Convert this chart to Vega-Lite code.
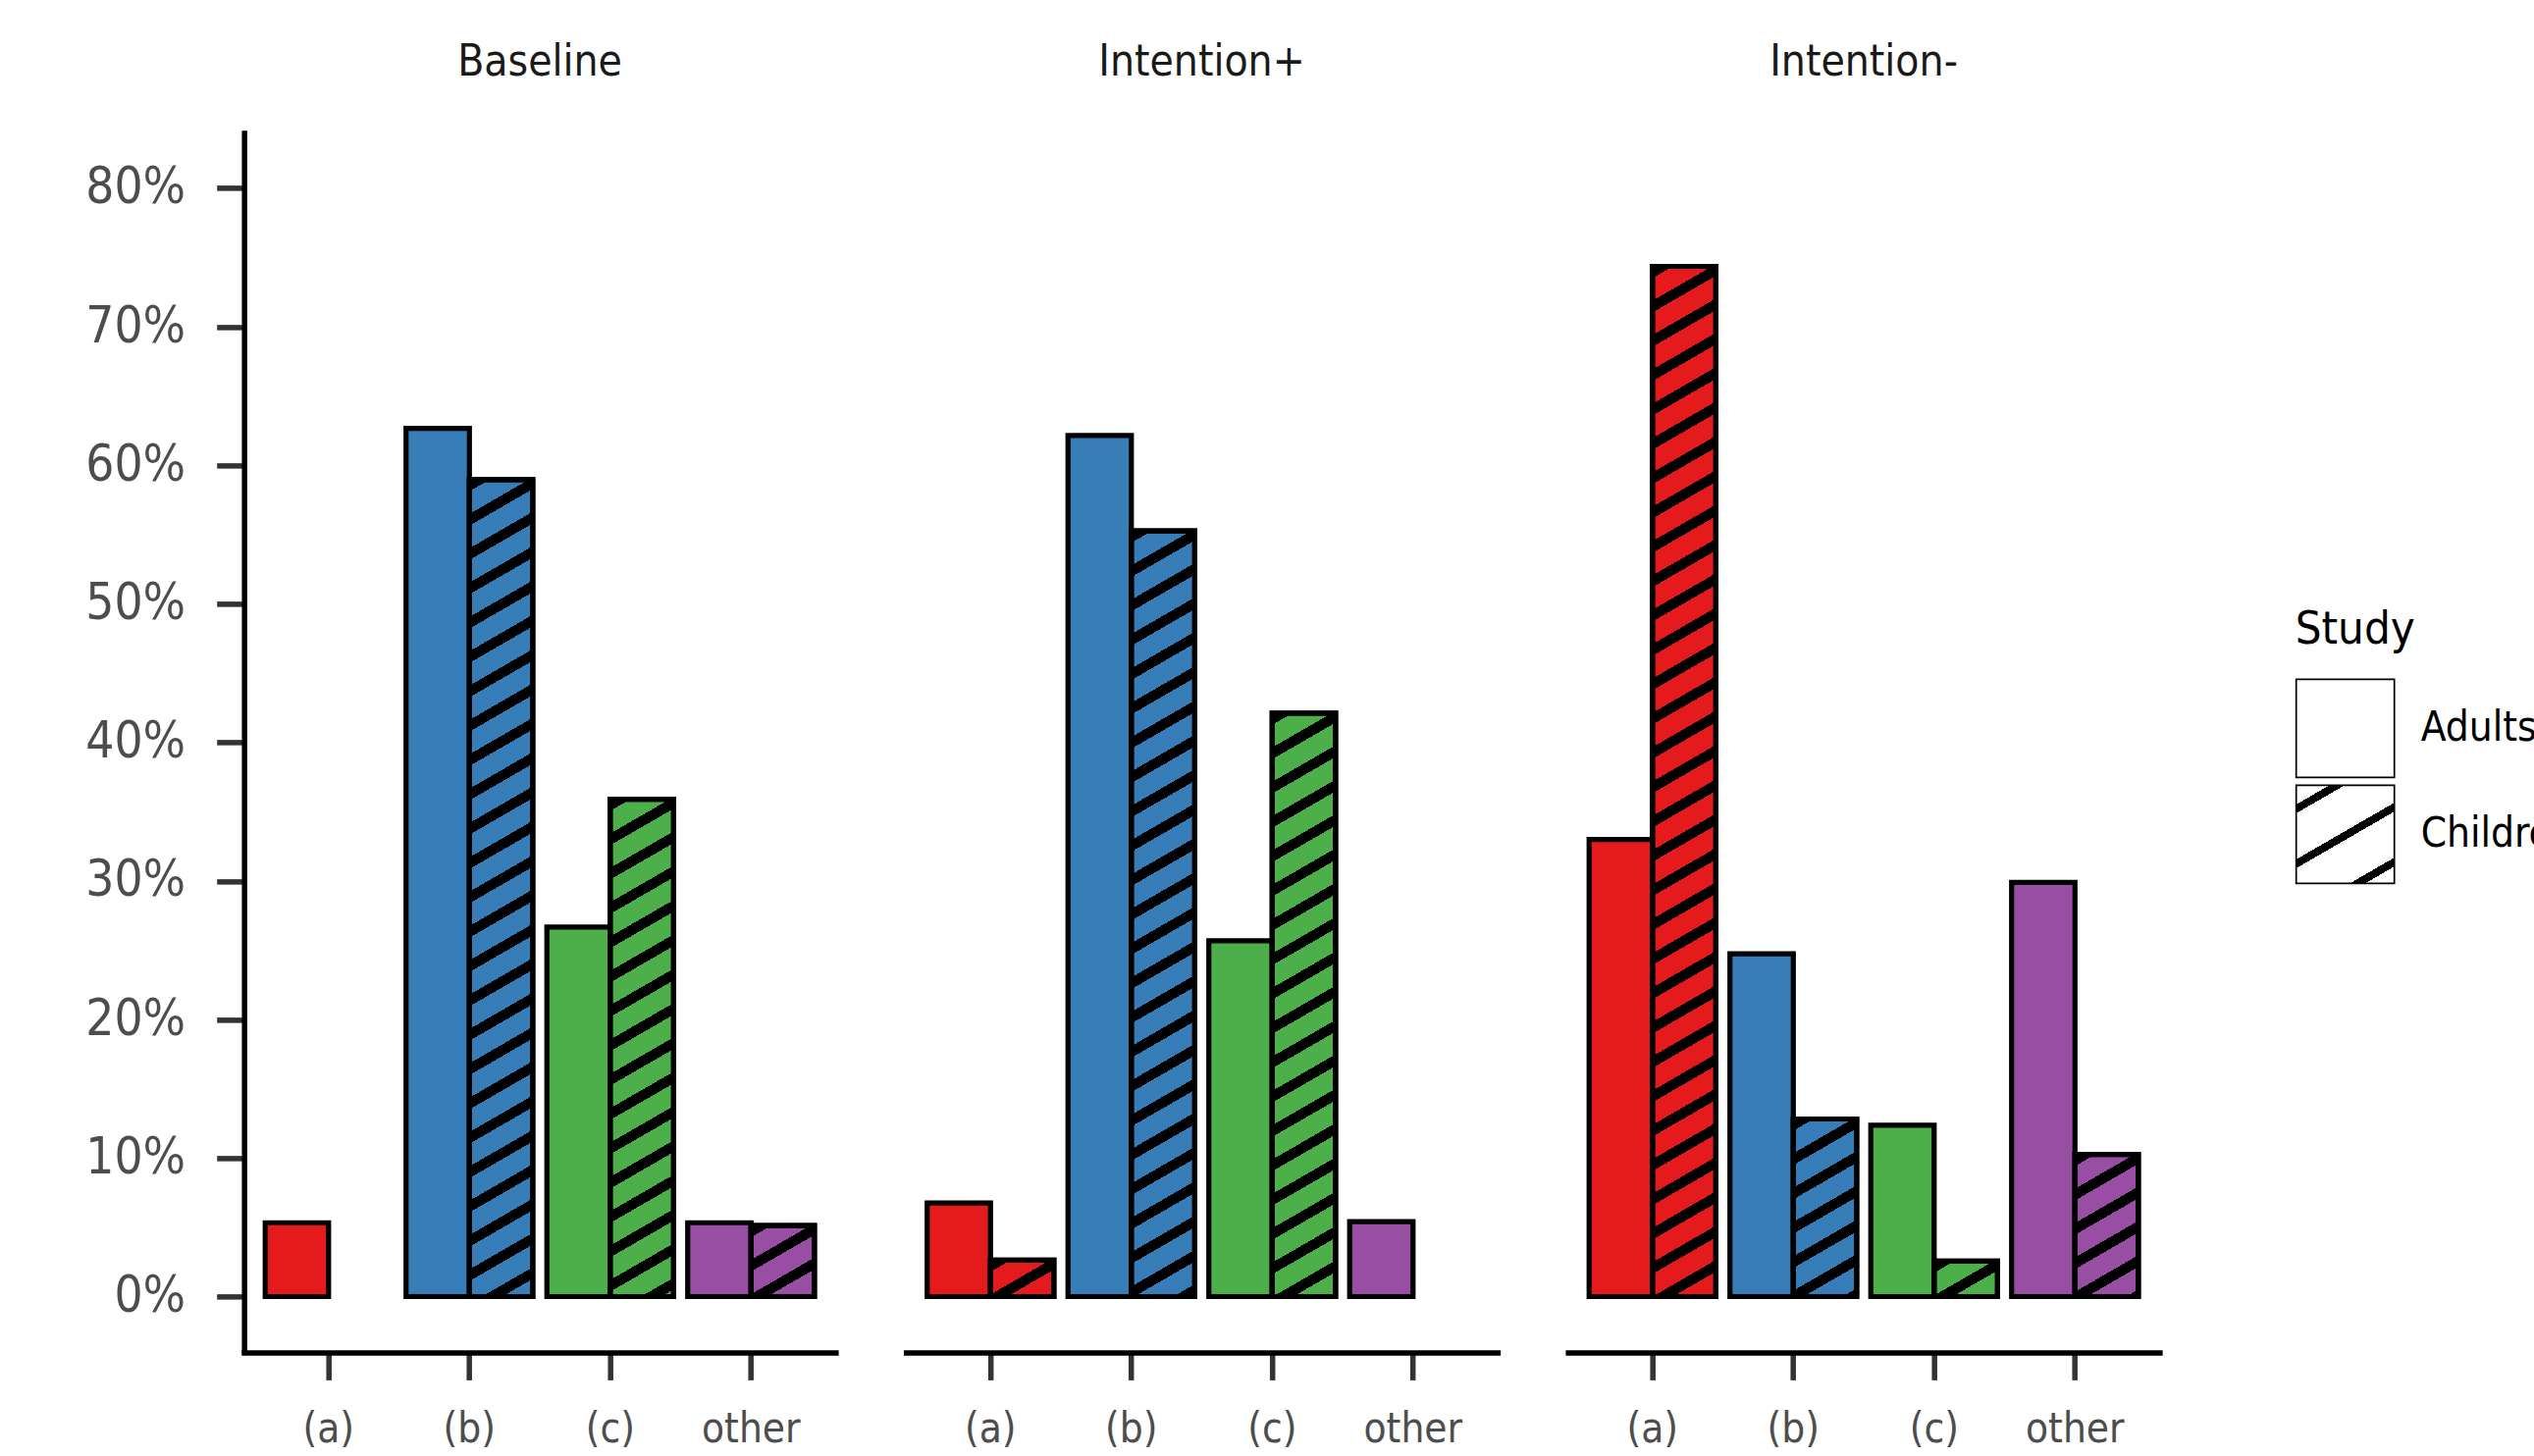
{
  "$schema": "https://vega.github.io/schema/vega-lite/v6.json",
  "background": "white",
  "padding": {"left": 86.7, "top": 42.4, "right": 0, "bottom": 14},
  "params": [
    {"name": "hatch", "value": [
      {"offset":0,"color":"#000000"},{"offset":0.0085,"color":"#000000"},{"offset":0.0085,"color":"rgba(0,0,0,0)"},{"offset":0.025,"color":"rgba(0,0,0,0)"},
      {"offset":0.025,"color":"#000000"},{"offset":0.0335,"color":"#000000"},{"offset":0.0335,"color":"rgba(0,0,0,0)"},{"offset":0.05,"color":"rgba(0,0,0,0)"},
      {"offset":0.05,"color":"#000000"},{"offset":0.0585,"color":"#000000"},{"offset":0.0585,"color":"rgba(0,0,0,0)"},{"offset":0.075,"color":"rgba(0,0,0,0)"},
      {"offset":0.075,"color":"#000000"},{"offset":0.0835,"color":"#000000"},{"offset":0.0835,"color":"rgba(0,0,0,0)"},{"offset":0.1,"color":"rgba(0,0,0,0)"},
      {"offset":0.1,"color":"#000000"},{"offset":0.1085,"color":"#000000"},{"offset":0.1085,"color":"rgba(0,0,0,0)"},{"offset":0.125,"color":"rgba(0,0,0,0)"},
      {"offset":0.125,"color":"#000000"},{"offset":0.1335,"color":"#000000"},{"offset":0.1335,"color":"rgba(0,0,0,0)"},{"offset":0.15,"color":"rgba(0,0,0,0)"},
      {"offset":0.15,"color":"#000000"},{"offset":0.1585,"color":"#000000"},{"offset":0.1585,"color":"rgba(0,0,0,0)"},{"offset":0.175,"color":"rgba(0,0,0,0)"},
      {"offset":0.175,"color":"#000000"},{"offset":0.1835,"color":"#000000"},{"offset":0.1835,"color":"rgba(0,0,0,0)"},{"offset":0.2,"color":"rgba(0,0,0,0)"},
      {"offset":0.2,"color":"#000000"},{"offset":0.2085,"color":"#000000"},{"offset":0.2085,"color":"rgba(0,0,0,0)"},{"offset":0.225,"color":"rgba(0,0,0,0)"},
      {"offset":0.225,"color":"#000000"},{"offset":0.2335,"color":"#000000"},{"offset":0.2335,"color":"rgba(0,0,0,0)"},{"offset":0.25,"color":"rgba(0,0,0,0)"},
      {"offset":0.25,"color":"#000000"},{"offset":0.2585,"color":"#000000"},{"offset":0.2585,"color":"rgba(0,0,0,0)"},{"offset":0.275,"color":"rgba(0,0,0,0)"},
      {"offset":0.275,"color":"#000000"},{"offset":0.2835,"color":"#000000"},{"offset":0.2835,"color":"rgba(0,0,0,0)"},{"offset":0.3,"color":"rgba(0,0,0,0)"},
      {"offset":0.3,"color":"#000000"},{"offset":0.3085,"color":"#000000"},{"offset":0.3085,"color":"rgba(0,0,0,0)"},{"offset":0.325,"color":"rgba(0,0,0,0)"},
      {"offset":0.325,"color":"#000000"},{"offset":0.3335,"color":"#000000"},{"offset":0.3335,"color":"rgba(0,0,0,0)"},{"offset":0.35,"color":"rgba(0,0,0,0)"},
      {"offset":0.35,"color":"#000000"},{"offset":0.3585,"color":"#000000"},{"offset":0.3585,"color":"rgba(0,0,0,0)"},{"offset":0.375,"color":"rgba(0,0,0,0)"},
      {"offset":0.375,"color":"#000000"},{"offset":0.3835,"color":"#000000"},{"offset":0.3835,"color":"rgba(0,0,0,0)"},{"offset":0.4,"color":"rgba(0,0,0,0)"},
      {"offset":0.4,"color":"#000000"},{"offset":0.4085,"color":"#000000"},{"offset":0.4085,"color":"rgba(0,0,0,0)"},{"offset":0.425,"color":"rgba(0,0,0,0)"},
      {"offset":0.425,"color":"#000000"},{"offset":0.4335,"color":"#000000"},{"offset":0.4335,"color":"rgba(0,0,0,0)"},{"offset":0.45,"color":"rgba(0,0,0,0)"},
      {"offset":0.45,"color":"#000000"},{"offset":0.4585,"color":"#000000"},{"offset":0.4585,"color":"rgba(0,0,0,0)"},{"offset":0.475,"color":"rgba(0,0,0,0)"},
      {"offset":0.475,"color":"#000000"},{"offset":0.4835,"color":"#000000"},{"offset":0.4835,"color":"rgba(0,0,0,0)"},{"offset":0.5,"color":"rgba(0,0,0,0)"},
      {"offset":0.5,"color":"#000000"},{"offset":0.5085,"color":"#000000"},{"offset":0.5085,"color":"rgba(0,0,0,0)"},{"offset":0.525,"color":"rgba(0,0,0,0)"},
      {"offset":0.525,"color":"#000000"},{"offset":0.5335,"color":"#000000"},{"offset":0.5335,"color":"rgba(0,0,0,0)"},{"offset":0.55,"color":"rgba(0,0,0,0)"},
      {"offset":0.55,"color":"#000000"},{"offset":0.5585,"color":"#000000"},{"offset":0.5585,"color":"rgba(0,0,0,0)"},{"offset":0.575,"color":"rgba(0,0,0,0)"},
      {"offset":0.575,"color":"#000000"},{"offset":0.5835,"color":"#000000"},{"offset":0.5835,"color":"rgba(0,0,0,0)"},{"offset":0.6,"color":"rgba(0,0,0,0)"},
      {"offset":0.6,"color":"#000000"},{"offset":0.6085,"color":"#000000"},{"offset":0.6085,"color":"rgba(0,0,0,0)"},{"offset":0.625,"color":"rgba(0,0,0,0)"},
      {"offset":0.625,"color":"#000000"},{"offset":0.6335,"color":"#000000"},{"offset":0.6335,"color":"rgba(0,0,0,0)"},{"offset":0.65,"color":"rgba(0,0,0,0)"},
      {"offset":0.65,"color":"#000000"},{"offset":0.6585,"color":"#000000"},{"offset":0.6585,"color":"rgba(0,0,0,0)"},{"offset":0.675,"color":"rgba(0,0,0,0)"},
      {"offset":0.675,"color":"#000000"},{"offset":0.6835,"color":"#000000"},{"offset":0.6835,"color":"rgba(0,0,0,0)"},{"offset":0.7,"color":"rgba(0,0,0,0)"},
      {"offset":0.7,"color":"#000000"},{"offset":0.7085,"color":"#000000"},{"offset":0.7085,"color":"rgba(0,0,0,0)"},{"offset":0.725,"color":"rgba(0,0,0,0)"},
      {"offset":0.725,"color":"#000000"},{"offset":0.7335,"color":"#000000"},{"offset":0.7335,"color":"rgba(0,0,0,0)"},{"offset":0.75,"color":"rgba(0,0,0,0)"},
      {"offset":0.75,"color":"#000000"},{"offset":0.7585,"color":"#000000"},{"offset":0.7585,"color":"rgba(0,0,0,0)"},{"offset":0.775,"color":"rgba(0,0,0,0)"},
      {"offset":0.775,"color":"#000000"},{"offset":0.7835,"color":"#000000"},{"offset":0.7835,"color":"rgba(0,0,0,0)"},{"offset":0.8,"color":"rgba(0,0,0,0)"},
      {"offset":0.8,"color":"#000000"},{"offset":0.8085,"color":"#000000"},{"offset":0.8085,"color":"rgba(0,0,0,0)"},{"offset":0.825,"color":"rgba(0,0,0,0)"},
      {"offset":0.825,"color":"#000000"},{"offset":0.8335,"color":"#000000"},{"offset":0.8335,"color":"rgba(0,0,0,0)"},{"offset":0.85,"color":"rgba(0,0,0,0)"},
      {"offset":0.85,"color":"#000000"},{"offset":0.8585,"color":"#000000"},{"offset":0.8585,"color":"rgba(0,0,0,0)"},{"offset":0.875,"color":"rgba(0,0,0,0)"},
      {"offset":0.875,"color":"#000000"},{"offset":0.8835,"color":"#000000"},{"offset":0.8835,"color":"rgba(0,0,0,0)"},{"offset":0.9,"color":"rgba(0,0,0,0)"},
      {"offset":0.9,"color":"#000000"},{"offset":0.9085,"color":"#000000"},{"offset":0.9085,"color":"rgba(0,0,0,0)"},{"offset":0.925,"color":"rgba(0,0,0,0)"},
      {"offset":0.925,"color":"#000000"},{"offset":0.9335,"color":"#000000"},{"offset":0.9335,"color":"rgba(0,0,0,0)"},{"offset":0.95,"color":"rgba(0,0,0,0)"},
      {"offset":0.95,"color":"#000000"},{"offset":0.9585,"color":"#000000"},{"offset":0.9585,"color":"rgba(0,0,0,0)"},{"offset":0.975,"color":"rgba(0,0,0,0)"},
      {"offset":0.975,"color":"#000000"},{"offset":0.9835,"color":"#000000"},{"offset":0.9835,"color":"rgba(0,0,0,0)"},{"offset":1,"color":"rgba(0,0,0,0)"}
    ]}
  ],
  "data": {"values": [
    {"cond": "Baseline", "resp": "(a)", "study": "Adults", "pct": 0.0533},
    {"cond": "Baseline", "resp": "(b)", "study": "Adults", "pct": 0.6267},
    {"cond": "Baseline", "resp": "(c)", "study": "Adults", "pct": 0.2667},
    {"cond": "Baseline", "resp": "other", "study": "Adults", "pct": 0.0533},
    {"cond": "Baseline", "resp": "(b)", "study": "Children", "pct": 0.5897},
    {"cond": "Baseline", "resp": "(c)", "study": "Children", "pct": 0.359},
    {"cond": "Baseline", "resp": "other", "study": "Children", "pct": 0.0513},
    {"cond": "Intention+", "resp": "(a)", "study": "Adults", "pct": 0.0676},
    {"cond": "Intention+", "resp": "(b)", "study": "Adults", "pct": 0.6216},
    {"cond": "Intention+", "resp": "(c)", "study": "Adults", "pct": 0.2568},
    {"cond": "Intention+", "resp": "other", "study": "Adults", "pct": 0.0541},
    {"cond": "Intention+", "resp": "(a)", "study": "Children", "pct": 0.0263},
    {"cond": "Intention+", "resp": "(b)", "study": "Children", "pct": 0.5526},
    {"cond": "Intention+", "resp": "(c)", "study": "Children", "pct": 0.4211},
    {"cond": "Intention-", "resp": "(a)", "study": "Adults", "pct": 0.3299},
    {"cond": "Intention-", "resp": "(b)", "study": "Adults", "pct": 0.2474},
    {"cond": "Intention-", "resp": "(c)", "study": "Adults", "pct": 0.1237},
    {"cond": "Intention-", "resp": "other", "study": "Adults", "pct": 0.299},
    {"cond": "Intention-", "resp": "(a)", "study": "Children", "pct": 0.7436},
    {"cond": "Intention-", "resp": "(b)", "study": "Children", "pct": 0.1282},
    {"cond": "Intention-", "resp": "(c)", "study": "Children", "pct": 0.0256},
    {"cond": "Intention-", "resp": "other", "study": "Children", "pct": 0.1026}
  ]},
  "facet": {
    "column": {
      "field": "cond", "type": "nominal",
      "sort": ["Baseline", "Intention+", "Intention-"],
      "header": {"title": null, "labelFontSize": 44, "labelColor": "#1A1A1A", "labelPadding": 49,
                 "labelFont": "Liberation Sans Narrow, Arial Narrow, DejaVu Sans Condensed, sans-serif"}
    }
  },
  "spacing": 71.5,
  "spec": {
    "width": 602.7,
    "height": 1242.6,
    "layer": [
      {
        "mark": {"type": "bar", "stroke": "black", "strokeWidth": 5.2},
        "encoding": {
          "x": {"field": "resp", "type": "nominal", "sort": ["(a)", "(b)", "(c)", "other"],
                "scale": {"paddingInner": 0.1, "paddingOuter": 0.15},
                "axis": {"title": null, "labelAngle": 0, "labelFontSize": 42, "labelPadding": 30}},
          "xOffset": {"field": "study", "type": "nominal", "sort": ["Adults", "Children"],
                      "scale": {"paddingInner": 0, "paddingOuter": 0}},
          "y": {"field": "pct", "type": "quantitative",
                "scale": {"domain": [-0.04, 0.84], "nice": false},
                "axis": {"title": null, "values": [0, 0.1, 0.2, 0.3, 0.4, 0.5, 0.6, 0.7, 0.8], "format": ".0%",
                         "labelFontSize": 51, "labelPadding": 32}},
          "y2": {"datum": 0},
          "fill": {"field": "resp", "type": "nominal",
                   "scale": {"domain": ["(a)", "(b)", "(c)", "other"], "range": ["#E41A1C", "#377EB8", "#4DAF4A", "#984EA3"]},
                   "legend": null},
          "opacity": {"field": "study", "type": "ordinal", "sort": ["Adults", "Children"],
                      "scale": {"range": [1, 1]},
                      "legend": {
                        "title": "Study", "orient": "none", "legendX": 2090, "legendY": 484,
                        "direction": "vertical", "padding": 0,
                        "symbolType": "square", "symbolSize": 10000,
                        "symbolStrokeColor": "black", "symbolStrokeWidth": 1.7, "symbolFillColor": "white", "symbolOpacity": 1,
                        "labelFontSize": 42, "labelColor": "black", "labelOffset": 26,
                        "titleFontSize": 47, "titleColor": "black", "titleFontWeight": "normal", "titlePadding": 25,
                        "rowPadding": 0,
                        "encode": {"symbols": {"update": {
                          "fill": [
                            {"test": "datum.value === 'Children'", "value": {
                              "gradient": "linear", "x1": 0, "y1": 0, "x2": 0.7275, "y2": 1.26,
                              "stops": [
                                {"offset": 0, "color": "white"}, {"offset": 0.1161, "color": "white"},
                                {"offset": 0.1161, "color": "black"}, {"offset": 0.1696, "color": "black"},
                                {"offset": 0.1696, "color": "white"}, {"offset": 0.4494, "color": "white"},
                                {"offset": 0.4494, "color": "black"}, {"offset": 0.503, "color": "black"},
                                {"offset": 0.503, "color": "white"}, {"offset": 0.7827, "color": "white"},
                                {"offset": 0.7827, "color": "black"}, {"offset": 0.8363, "color": "black"},
                                {"offset": 0.8363, "color": "white"}, {"offset": 1, "color": "white"}
                              ]}},
                            {"value": "white"}
                          ],
                          "stroke": {"value": "black"},
                          "strokeWidth": {"value": 1.7},
                          "opacity": {"value": 1}
                        }}}
                      }}
        }
      },
      {
        "transform": [{"filter": "datum.study === 'Children'"}],
        "mark": {"type": "bar", "stroke": "black", "strokeWidth": 5.2,
                 "fill": {"expr": "({gradient: 'linear', x1: 0, y1: 0, x2: 52220 / (1391.1 + pow(datum.pct * 1412, 2)), y2: 1976800 * datum.pct / (1391.1 + pow(datum.pct * 1412, 2)), stops: hatch})"}},
        "encoding": {
          "x": {"field": "resp", "type": "nominal", "sort": ["(a)", "(b)", "(c)", "other"]},
          "xOffset": {"field": "study", "type": "nominal", "sort": ["Adults", "Children"]},
          "y": {"field": "pct", "type": "quantitative"},
          "y2": {"datum": 0}
        }
      }
    ]
  },
  "config": {
    "font": "Liberation Sans Narrow, Arial Narrow, DejaVu Sans Condensed, sans-serif",
    "view": {"stroke": null},
    "axis": {
      "grid": false,
      "domainColor": "black", "domainWidth": 5.5, "domainCap": "square",
      "tickColor": "#333333", "tickWidth": 5.5, "tickSize": 28,
      "labelColor": "#4D4D4D",
      "labelFont": "Liberation Sans Narrow, Arial Narrow, DejaVu Sans Condensed, sans-serif"
    },
    "legend": {
      "labelFont": "Liberation Sans Narrow, Arial Narrow, DejaVu Sans Condensed, sans-serif",
      "titleFont": "Liberation Sans Narrow, Arial Narrow, DejaVu Sans Condensed, sans-serif"
    }
  }
}
